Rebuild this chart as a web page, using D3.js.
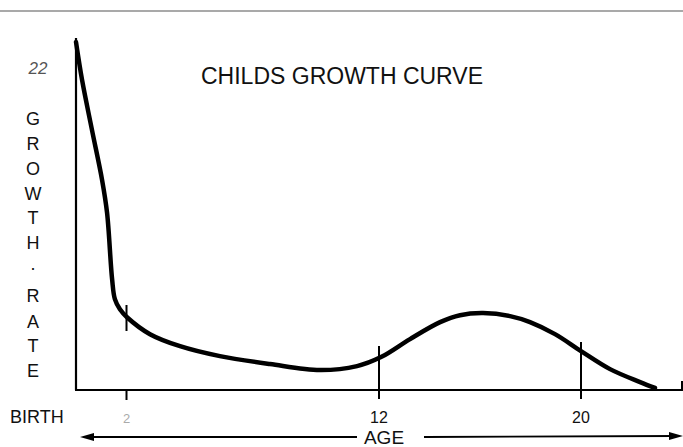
<!DOCTYPE html>
<html><head><meta charset="utf-8">
<script src="https://cdn.jsdelivr.net/npm/d3@7"></script>
<style>html,body{margin:0;padding:0;background:#fff;}svg{display:block;}</style>
</head><body>
<svg id="chart" width="683" height="447"></svg>
<script>
// Data
const ages  = [0, 0.24, 0.63, 1.03, 1.23, 1.43, 1.54, 1.74, 2.02, 2.93, 4.12, 5.7, 7.68, 9.66, 11.13, 12.08, 13.23, 14.42, 15.21, 16.12, 17.19, 17.98, 18.97, 20.0, 21.15, 22.34, 22.93];
const rates = [22, 19.6, 16.46, 13.3, 11.2, 7.0, 5.74, 5.1, 4.6, 3.53, 2.77, 2.14, 1.64, 1.26, 1.51, 2.08, 3.22, 4.29, 4.73, 4.86, 4.67, 4.29, 3.53, 2.46, 1.32, 0.5, 0.13];
const tickAges = [2, 12, 20];
const tickLabels = ["2", "12", "20"];
const title = "CHILDS GROWTH CURVE";
const yLabel = ["G","R","O","W","T","H","·","R","A","T","E"];
const yTopLabel = "22";

const svg = d3.select("#chart");
const font = "'Liberation Sans', Arial, Helvetica, sans-serif";

const x = d3.scaleLinear().domain([0, 24]).range([76, 682]);
const y = d3.scaleLinear().domain([0, 22]).range([390, 42]);

// top scan line
svg.append("line").attr("x1", 0).attr("x2", 683).attr("y1", 11).attr("y2", 11)
  .attr("stroke", "#555").attr("stroke-width", 1.2);

// axes
svg.append("line").attr("x1", x(0)).attr("x2", x(0)).attr("y1", 38).attr("y2", y(0))
  .attr("stroke", "#000").attr("stroke-width", 2.2);
svg.append("line").attr("x1", x(0) - 1).attr("x2", x(24)).attr("y1", y(0)).attr("y2", y(0))
  .attr("stroke", "#000").attr("stroke-width", 2.2);
svg.append("line").attr("x1", x(24)).attr("x2", x(24)).attr("y1", y(0) - 9).attr("y2", y(0) + 1)
  .attr("stroke", "#000").attr("stroke-width", 2);

// ticks
const tickTop = {2: 305, 12: 346, 20: 342};
tickAges.forEach(a => {
  if (a === 2) {
    svg.append("line").attr("x1", x(a)).attr("x2", x(a)).attr("y1", 305).attr("y2", 331)
      .attr("stroke", "#000").attr("stroke-width", 2);
    svg.append("line").attr("x1", x(a)).attr("x2", x(a)).attr("y1", y(0)).attr("y2", y(0) + 10)
      .attr("stroke", "#000").attr("stroke-width", 2);
  } else {
    svg.append("line").attr("x1", x(a)).attr("x2", x(a)).attr("y1", tickTop[a]).attr("y2", y(0) + 9)
      .attr("stroke", "#000").attr("stroke-width", 2);
  }
});

// curve
const pts = ages.map((a, i) => [a, rates[i]]);
const line = d3.line().x(d => x(d[0])).y(d => y(d[1])).curve(d3.curveCatmullRom.alpha(0.5));
svg.append("path").attr("d", line(pts)).attr("fill", "none")
  .attr("stroke", "#000").attr("stroke-width", 4.5).attr("stroke-linecap", "round").attr("stroke-linejoin", "round");

// title
svg.append("text").attr("x", 201).attr("y", 84).text(title)
  .attr("font-family", font).attr("font-size", 23).attr("fill", "#111");

// 22 label
svg.append("text").attr("x", 38).attr("y", 74).attr("text-anchor", "middle").text(yTopLabel)
  .attr("font-family", font).attr("font-size", 17).attr("font-style", "italic").attr("fill", "#555");

// vertical label
const ys = [118, 143, 168, 193, 217, 242, 267, 295, 321, 345, 370];
yLabel.forEach((c, i) => {
  svg.append("text").attr("x", 33).attr("y", ys[i] + 7).attr("text-anchor", "middle").text(c)
    .attr("font-family", font).attr("font-size", 18).attr("fill", "#111");
});

// x tick labels
svg.append("text").attr("x", 10).attr("y", 423).text("BIRTH")
  .attr("font-family", font).attr("font-size", 18).attr("fill", "#111");
tickAges.forEach((a, i) => {
  svg.append("text").attr("x", x(a)).attr("y", 423).attr("text-anchor", "middle").text(tickLabels[i])
    .attr("font-family", font).attr("font-size", a === 2 ? 13 : 16).attr("fill", a === 2 ? "#aaa" : "#111");
});

// AGE arrows
const ay = 437;
svg.append("text").attr("x", 384).attr("y", 444).attr("text-anchor", "middle").text("AGE")
  .attr("font-family", font).attr("font-size", 19).attr("fill", "#111");
svg.append("line").attr("x1", 86).attr("x2", 357).attr("y1", ay).attr("y2", ay).attr("stroke", "#000").attr("stroke-width", 1.8);
svg.append("line").attr("x1", 424).attr("x2", 676).attr("y1", ay).attr("y2", ay - 1).attr("stroke", "#000").attr("stroke-width", 1.8);
svg.append("path").attr("d", `M${80},${ay} L${94},${ay - 4} L${94},${ay + 4} Z`).attr("fill", "#000");
svg.append("path").attr("d", `M${683},${ay - 1} L${669},${ay - 5} L${669},${ay + 3} Z`).attr("fill", "#000");
</script>
</body></html>
